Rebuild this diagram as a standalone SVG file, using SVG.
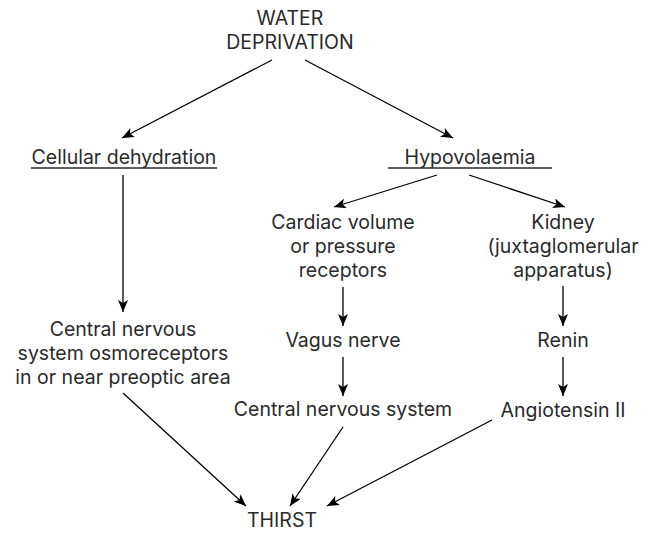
<svg xmlns="http://www.w3.org/2000/svg" width="649" height="534" viewBox="0 0 649 534">
<style>
text{font-family:Inter,"Open Sans","Liberation Sans",sans-serif;font-size:19.5px;fill:#2a2a2a;text-anchor:middle}
.c line{stroke:#000;stroke-width:1.3;marker-end:url(#a)}
.u{stroke:#2a2a2a;stroke-width:1.3}
</style>
<defs><marker id="a" viewBox="0 0 12 10" refX="12" refY="5" markerWidth="12" markerHeight="10" markerUnits="userSpaceOnUse" orient="auto"><path d="M0,0 L12,5 L0,10 L3,5 Z" fill="#000"/></marker></defs>
<rect width="649" height="534" fill="#fff"/>
<g id="water"><text x="290" y="25">WATER</text><text x="290" y="49">DEPRIVATION</text></g>
<g id="cellular"><text x="124" y="164">Cellular dehydration</text><line class="u" x1="31" y1="168" x2="217" y2="168"/></g>
<g id="hypo"><text x="470" y="164">Hypovolaemia</text><line class="u" x1="388" y1="168" x2="552" y2="168"/></g>
<g id="cardiac"><text x="343" y="229">Cardiac volume</text><text x="343" y="253">or pressure</text><text x="343" y="277">receptors</text></g>
<g id="kidney"><text x="563" y="229">Kidney</text><text x="563" y="253">(juxtaglomerular</text><text x="563" y="277">apparatus)</text></g>
<g id="vagus"><text x="343" y="347">Vagus nerve</text></g>
<g id="renin"><text x="563" y="347">Renin</text></g>
<g id="cns"><text x="343" y="416">Central nervous system</text></g>
<g id="ang"><text x="563" y="417">Angiotensin II</text></g>
<g id="osmo"><text x="123" y="336">Central nervous</text><text x="123" y="360">system osmoreceptors</text><text x="123" y="384">in or near preoptic area</text></g>
<g id="thirst"><text x="282" y="527">THIRST</text></g>
<g class="c">
<line x1="272" y1="60" x2="122" y2="138"/>
<line x1="305" y1="60" x2="453" y2="138"/>
<line x1="437" y1="175" x2="334" y2="207"/>
<line x1="469" y1="175" x2="565" y2="207"/>
<line x1="123" y1="175" x2="123" y2="312"/>
<line x1="343" y1="287" x2="343" y2="326"/>
<line x1="563" y1="286" x2="563" y2="326"/>
<line x1="343" y1="357" x2="343" y2="396"/>
<line x1="563" y1="357" x2="563" y2="396"/>
<line x1="123" y1="393" x2="246" y2="506"/>
<line x1="343" y1="427" x2="290" y2="506"/>
<line x1="492" y1="420" x2="327" y2="506"/>
</g>
</svg>
